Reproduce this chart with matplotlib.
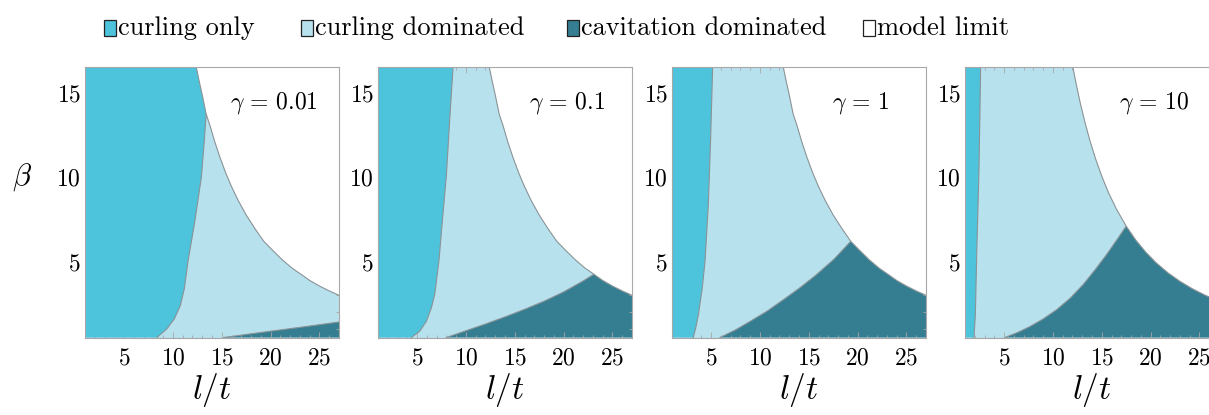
import matplotlib
matplotlib.use("Agg")
import matplotlib.pyplot as plt
from matplotlib.patches import Rectangle
from matplotlib.ticker import MultipleLocator

plt.rcParams['font.family'] = ['cmr10', 'DejaVu Serif']
plt.rcParams['mathtext.fontset'] = 'cm'
plt.rcParams['axes.formatter.use_mathtext'] = True

# ---------------- data ----------------
gammas = ['0.01', '0.1', '1', '10']
legend_labels = ['curling only', 'curling dominated', 'cavitation dominated', 'model limit']
x_ticks = [5, 10, 15, 20, 25]
y_ticks = [5, 10, 15]

# model limit curve (upper boundary of valid region), panels 1-3
limit_x = [12.4, 12.7, 13.0, 13.4, 13.8, 14.3, 14.8, 15.4, 16.0, 16.7, 17.5, 18.4,
           19.3, 20.2, 21.2, 22.2, 23.1, 24.0, 25.0, 26.0, 27.0]
limit_y = [16.5, 15.66, 14.88, 13.75, 13.05, 12.07, 11.2, 10.26, 9.44, 8.6, 7.76, 6.95,
           6.2, 5.67, 5.1, 4.61, 4.25, 3.88, 3.55, 3.26, 3.0]
# model limit curve, panel 4
limit4_x = [12.05, 12.4, 12.8, 13.3, 13.8, 14.4, 15.0, 15.7, 16.5, 17.5, 18.5, 19.5,
            20.6, 21.8, 23.0, 24.3, 25.6, 27.0]
limit4_y = [16.5, 15.47, 14.39, 13.2, 12.14, 11.03, 10.06, 9.07, 8.11, 7.1, 6.26, 5.56,
            4.91, 4.32, 3.83, 3.38, 3.0, 2.67]

# curling-only boundary per panel
curl1_x = [8.37, 9.39, 10.15, 10.76, 11.17, 11.55, 12.24, 12.92, 13.23, 13.40]
curl1_y = [0.5, 1.02, 1.61, 2.4, 3.4, 5.04, 7.37, 10.04, 12.3, 13.75]
curl2_x = [4.43, 5.28, 5.96, 6.47, 6.81, 7.25, 7.59, 8.0, 8.34, 8.68]
curl2_y = [0.5, 0.88, 1.47, 2.27, 3.06, 5.1, 7.43, 10.1, 13.4, 16.5]
curl3_x = [3.18, 3.46, 3.70, 4.10, 4.38, 4.72, 4.96, 5.16]
curl3_y = [0.5, 1.15, 1.85, 3.44, 5.02, 8.4, 12.4, 16.5]
curl4_x = [1.92, 2.06, 2.20, 2.43, 2.60]
curl4_y = [0.5, 1.85, 5.42, 10.4, 16.5]

# cavitation-dominated boundary per panel
cav1_x = [15.2, 18.0, 21.0, 24.0, 27.0]
cav1_y = [0.5, 0.72, 0.95, 1.18, 1.42]
cav2_x = [8.0, 10.0, 12.0, 14.0, 16.0, 18.0, 20.0, 22.0, 23.1]
cav2_y = [0.5, 0.9, 1.3, 1.72, 2.17, 2.65, 3.2, 3.85, 4.25]
cav3_x = [5.91, 7.5, 8.98, 10.7, 12.4, 14.1, 15.8, 17.6, 19.3]
cav3_y = [0.5, 0.95, 1.45, 2.05, 2.74, 3.45, 4.23, 5.15, 6.2]
cav4_x = [5.09, 6.4, 7.65, 9.0, 10.39, 11.8, 13.1, 14.3, 15.5, 16.5, 17.5]
cav4_y = [0.5, 0.8, 1.15, 1.6, 2.15, 2.85, 3.64, 4.5, 5.42, 6.25, 7.1]

panels = [
    (gammas[0], curl1_x, curl1_y, cav1_x, cav1_y, limit_x, limit_y),
    (gammas[1], curl2_x, curl2_y, cav2_x, cav2_y, limit_x, limit_y),
    (gammas[2], curl3_x, curl3_y, cav3_x, cav3_y, limit_x, limit_y),
    (gammas[3], curl4_x, curl4_y, cav4_x, cav4_y, limit4_x, limit4_y),
]

C_ONLY = '#4DC3DC'
C_DOM = '#B8E1EE'
C_CAV = '#357E92'
C_LINE = '#8a9396'
C_FRAME = '#a8a8a8'

XMIN, XMAX, YMIN, YMAX = 1, 27, 0.5, 16.5

W, H = 1209, 415
fig = plt.figure(figsize=(W / 100, H / 100), dpi=100)

lefts_px = [85, 378, 672, 965]
ax_w, ax_h = 254, 270
bottom_px = 337.5

for i, (g, cx, cy, vx, vy, lx, ly) in enumerate(panels):
    ax = fig.add_axes([lefts_px[i] / W, (H - bottom_px) / H, ax_w / W, ax_h / H])
    ax.set_xlim(XMIN, XMAX)
    ax.set_ylim(YMIN, YMAX)
    ax.set_facecolor(C_DOM)

    # cavitation dominated region
    px = list(vx) + [x for x in lx if x > vx[-1]] + [XMAX]
    py = list(vy) + [y for x, y in zip(lx, ly) if x > vx[-1]] + [YMIN]
    ax.fill(px, py, color=C_CAV, lw=0, zorder=1)

    # curling only region
    extra = sorted([(x, y) for x, y in zip(lx, ly) if x < cx[-1] and y > cy[-1]],
                   key=lambda p: -p[0])
    px = [XMIN] + list(cx) + [p[0] for p in extra] + [XMIN]
    py = [YMIN] + list(cy) + [p[1] for p in extra] + [YMAX]
    ax.fill(px, py, color=C_ONLY, lw=0, zorder=2)

    ax.plot(cx, cy, color=C_LINE, lw=0.8, zorder=3)
    ax.plot(vx, vy, color=C_LINE, lw=0.8, zorder=3)

    # model limit (white) region
    ax.fill(list(lx) + [XMAX], list(ly) + [YMAX], color='white', lw=0, zorder=4)
    ax.plot(lx, ly, color=C_LINE, lw=0.8, zorder=5)

    ax.set_xticks(x_ticks)
    ax.set_yticks(y_ticks)
    ax.xaxis.set_minor_locator(MultipleLocator(1))
    ax.yaxis.set_minor_locator(MultipleLocator(1))
    ax.tick_params(which='both', direction='in', top=True, right=True,
                   color=C_FRAME, width=0.6)
    ax.tick_params(which='major', length=4, labelsize=17)
    ax.tick_params(which='minor', length=2)
    ax.tick_params(axis='x', pad=7)
    ax.tick_params(axis='y', pad=3)
    for s in ax.spines.values():
        s.set_color(C_FRAME)
        s.set_linewidth(0.8)
        s.set_zorder(6)

    ax.text(0.745, 0.868, r'$\gamma\, =\, %s$' % g, transform=ax.transAxes,
            ha='center', va='center', fontsize=17, zorder=7)
    ax.text(0.5, -0.194, r'$l/t$', transform=ax.transAxes,
            ha='center', va='center', fontsize=24)

fig.text(22 / W, 1 - 177 / H, r'$\beta$', ha='center', va='center', fontsize=22)

# legend
box_lefts = [104, 301, 567, 863]
box_colors = [C_ONLY, C_DOM, C_CAV, 'white']
for bl, col, lab in zip(box_lefts, box_colors, legend_labels):
    fig.patches.append(Rectangle((bl / W, 1 - 36 / H), 12 / W, 16 / H,
                                 transform=fig.transFigure, facecolor=col,
                                 edgecolor='#222222', lw=0.9))
    fig.text((bl + 14) / W, 1 - 28 / H, lab, ha='left', va='center', fontsize=19)

fig.savefig('out.png', dpi=100)
